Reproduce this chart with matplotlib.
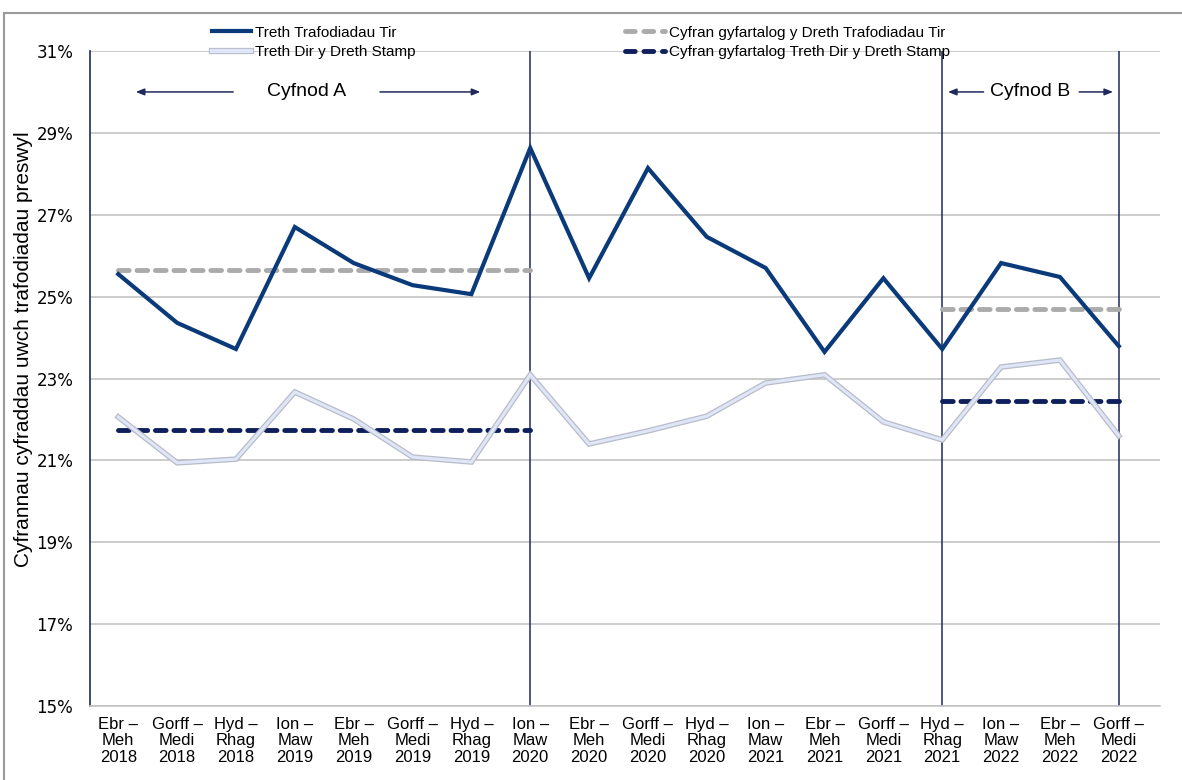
import matplotlib
matplotlib.use("Agg")
import matplotlib.pyplot as plt
from matplotlib.patches import Rectangle
from matplotlib.lines import Line2D
import matplotlib.patheffects as pe

plt.rcParams['font.family'] = ['Liberation Sans', 'DejaVu Sans']

categories = ["Ebr –\nMeh\n2018", "Gorff –\nMedi\n2018", "Hyd –\nRhag\n2018", "Ion –\nMaw\n2019",
              "Ebr –\nMeh\n2019", "Gorff –\nMedi\n2019", "Hyd –\nRhag\n2019", "Ion –\nMaw\n2020",
              "Ebr –\nMeh\n2020", "Gorff –\nMedi\n2020", "Hyd –\nRhag\n2020", "Ion –\nMaw\n2021",
              "Ebr –\nMeh\n2021", "Gorff –\nMedi\n2021", "Hyd –\nRhag\n2021", "Ion –\nMaw\n2022",
              "Ebr –\nMeh\n2022", "Gorff –\nMedi\n2022"]
ltt = [25.55, 24.36, 23.72, 26.70, 25.82, 25.28, 25.06, 28.63, 25.45, 28.14,
       26.46, 25.70, 23.65, 25.45, 23.72, 25.82, 25.48, 23.79]
sdlt = [22.06, 20.94, 21.03, 22.67, 22.01, 21.08, 20.96, 23.09, 21.40, 21.72,
        22.08, 22.89, 23.09, 21.94, 21.50, 23.28, 23.45, 21.60]
period_a = (0, 7)
period_b = (14, 17)
avg_ltt = [25.65, 24.70]
avg_sdlt = [21.74, 22.45]
yticks = [15, 17, 19, 21, 23, 25, 27, 29, 31]

fig = plt.figure(figsize=(11.82, 7.8), dpi=100)
ax = fig.add_axes([90/1182, 1-706/780, (1160-90)/1182, (706-51)/780])

x = list(range(len(categories)))
for y in yticks:
    ax.axhline(y, color='#c3c3c3', lw=1.2, zorder=1)

for xv in [period_a[1], period_b[0], period_b[1]]:
    ax.axvline(xv, color='#1f2a5c', lw=1.1, zorder=2)

ax.plot(x, ltt, color='#0b3a7a', lw=3, zorder=5, solid_joinstyle='miter')
ax.plot(x, sdlt, color='#b8bcc8', lw=4, zorder=4, solid_joinstyle='miter')
ax.plot(x, sdlt, color='#dfe6f7', lw=2.2, zorder=4.5, solid_joinstyle='miter')

dash = (0, (2.2, 1.6))
ax.plot(period_a, [avg_ltt[0]] * 2, color='#ababab', lw=3.5, ls=dash, dash_capstyle='round', zorder=3)
ax.plot(period_b, [avg_ltt[1]] * 2, color='#ababab', lw=3.5, ls=dash, dash_capstyle='round', zorder=3)
ax.plot(period_a, [avg_sdlt[0]] * 2, color='#0e1f5c', lw=3.5, ls=dash, dash_capstyle='round', zorder=3)
ax.plot(period_b, [avg_sdlt[1]] * 2, color='#0e1f5c', lw=3.5, ls=dash, dash_capstyle='round', zorder=3)

ax.set_xlim(-0.48, 17.7)
ax.set_ylim(15, 31)
ax.set_yticks(yticks)
ax.set_yticklabels([f"{v}%" for v in yticks], fontsize=12, family=['DejaVu Sans'])
ax.set_xticks(x)
ax.set_xticklabels(categories, fontsize=12, linespacing=1.1)
ax.tick_params(axis='both', length=0, pad=8)
ax.tick_params(axis='y', pad=12)
for s in ['top', 'right']:
    ax.spines[s].set_visible(False)
ax.spines['left'].set_color('#1f2a5c')
ax.spines['left'].set_linewidth(1.2)
ax.spines['bottom'].set_color('#c3c3c3')
ax.spines['bottom'].set_linewidth(1.2)
ax.set_ylabel('Cyfrannau cyfraddau uwch trafodiadau preswyl', fontsize=15)
ax.yaxis.set_label_coords(-0.053, 0.545)

# Period annotations
ax.text(3.2, 30.0, 'Cyfnod A', fontsize=14, ha='center', va='center')
arrow_kw = dict(arrowstyle='-|>,head_length=0.5,head_width=0.2', color='#1f2a5c', lw=1.1)
ax.annotate('', xy=(0.25, 30.0), xytext=(2.0, 30.0), arrowprops=arrow_kw)
ax.annotate('', xy=(6.2, 30.0), xytext=(4.4, 30.0), arrowprops=arrow_kw)
ax.text(15.5, 30.0, 'Cyfnod B', fontsize=14, ha='center', va='center')
ax.annotate('', xy=(14.05, 30.0), xytext=(14.75, 30.0), arrowprops=arrow_kw)
ax.annotate('', xy=(16.95, 30.0), xytext=(16.28, 30.0), arrowprops=arrow_kw)

# Legend
h1 = Line2D([], [], color='#0b3a7a', lw=3)
h2 = Line2D([], [], color='#dfe6f7', lw=3)
h2.set_path_effects([pe.Stroke(linewidth=4.5, foreground='#b8bcc8'), pe.Normal()])
h3 = Line2D([], [], color='#ababab', lw=3.5, ls=(0, (2.0, 1.8)), dash_capstyle='round')
h4 = Line2D([], [], color='#0e1f5c', lw=3.5, ls=(0, (2.0, 1.8)), dash_capstyle='round')
fig.legend([h1, h2, h3, h4],
           ['Treth Trafodiadau Tir', 'Treth Dir y Dreth Stamp',
            'Cyfran gyfartalog y Dreth Trafodiadau Tir', 'Cyfran gyfartalog Treth Dir y Dreth Stamp'],
           ncol=2, loc='upper left', bbox_to_anchor=(198/1182, 1-12/780), frameon=False,
           fontsize=11, handlelength=2.6, handletextpad=0.25, columnspacing=13.7, labelspacing=0.35)

fig.patches.append(Rectangle((4/1182, -0.01), 1.0, 1.01-13/780, transform=fig.transFigure,
                             fill=False, edgecolor='#9a9a9a', lw=1.5))

fig.savefig('out.png', dpi=100)
